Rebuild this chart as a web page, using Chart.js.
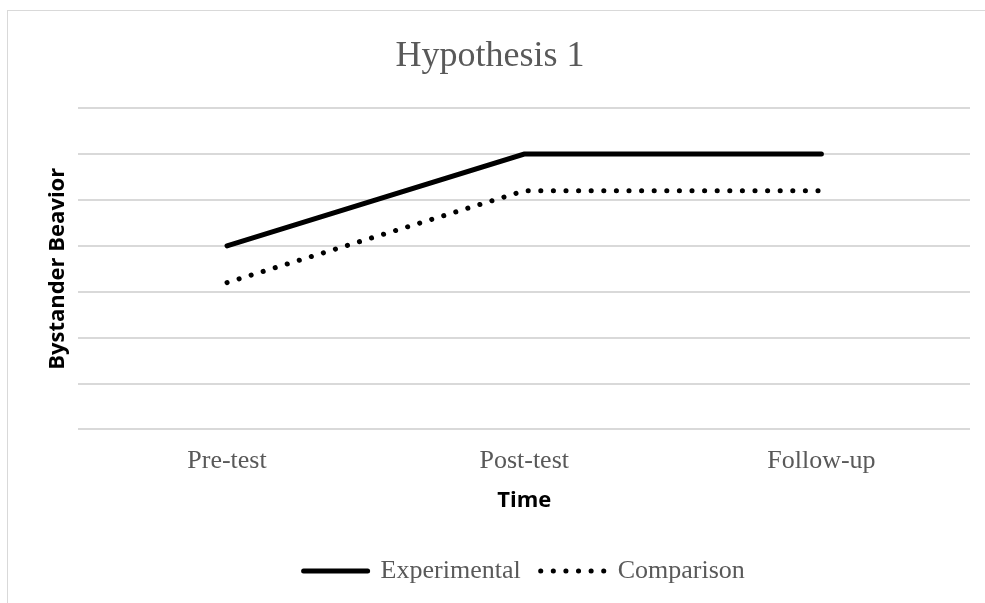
<!DOCTYPE html>
<html>
<head>
<meta charset="utf-8">
<script src="https://cdn.jsdelivr.net/npm/chart.js@4/dist/chart.umd.min.js"></script>
<style>
  html, body { margin: 0; padding: 0; background: #fff; overflow: hidden; }
  #wrap { position: relative; width: 985px; height: 603px; }
  #frame { position: absolute; left: 7px; top: 10px; width: 1000px; height: 700px;
           border-top: 1.5px solid #d9d9d9; border-left: 1.5px solid #d9d9d9; }
  canvas { position: absolute; left: 0; top: 0; }
</style>
</head>
<body>
<div id="wrap">
  <div id="frame"></div>
  <canvas id="myChart"></canvas>
</div>
<script>
const categories = ['Pre-test', 'Post-test', 'Follow-up'];
const experimental = [4, 6, 6];
const comparison = [3.2, 5.2, 5.2];

const serif = '"Liberation Serif", "Times New Roman", serif';
const sans = '"Open Sans", "Liberation Sans", sans-serif';
const gray = '#595959';

// legend: keep the dash pattern of each line in its sample
function legendLabels(chart) {
    const items = Chart.defaults.plugins.legend.labels.generateLabels(chart);
    items.forEach(item => {
        const ds = chart.data.datasets[item.datasetIndex];
        item.lineDash = ds.borderDash || [];
        item.lineCap = 'round';
        item.lineWidth = ds.borderWidth;
        item.strokeStyle = ds.borderColor;
        item.fillStyle = ds.borderColor;
    });
    return items;
}

const ctx = document.getElementById('myChart').getContext('2d');
const myChart = new Chart(ctx, {
    type: 'line',
    data: {
        labels: categories,
        datasets: [{
            label: 'Experimental',
            data: experimental,
            borderColor: '#000',
            backgroundColor: '#000',
            borderWidth: 5,
            borderCapStyle: 'round',
            pointRadius: 0,
            tension: 0
        }, {
            label: 'Comparison',
            data: comparison,
            borderColor: '#000',
            backgroundColor: '#000',
            borderWidth: 5,
            borderDash: [0.1, 12.5],
            borderCapStyle: 'round',
            pointRadius: 0,
            tension: 0
        }]
    },
    options: {
        responsive: true,
        maintainAspectRatio: false,
        animation: false,
        layout: { padding: { left: 10, right: 15, top: 0, bottom: 9 } },
        plugins: {
            title: {
                display: true,
                text: 'Hypothesis 1',
                color: gray,
                font: { family: serif, size: 36, weight: 'normal' },
                padding: { top: 35, bottom: 30 }
            },
            legend: {
                position: 'bottom',
                fullSize: false,
                labels: {
                    usePointStyle: true,
                    pointStyle: 'line',
                    pointStyleWidth: 64,
                    boxHeight: 10,
                    padding: 20,
                    color: gray,
                    font: { family: serif, size: 26 },
                    generateLabels: legendLabels
                }
            },
            tooltip: { enabled: false }
        },
        scales: {
            x: {
                offset: true,
                grid: { display: false, drawTicks: false },
                border: { display: false },
                ticks: { color: gray, padding: 16, maxRotation: 0, font: { family: serif, size: 26 } },
                title: {
                    display: true,
                    text: 'Time',
                    color: '#000',
                    font: { family: sans, size: 22, weight: 'bold' },
                    padding: { top: -5, bottom: 24 }
                }
            },
            y: {
                min: 0,
                max: 7,
                ticks: { display: false, stepSize: 1 },
                grid: { color: '#d9d9d9', lineWidth: 2, drawTicks: false },
                border: { display: false },
                title: {
                    display: true,
                    text: 'Bystander Beavior',
                    color: '#000',
                    font: { family: sans, size: 22, weight: 'bold' },
                    padding: { top: 35, bottom: 7 }
                }
            }
        }
    }
});
</script>
</body>
</html>
